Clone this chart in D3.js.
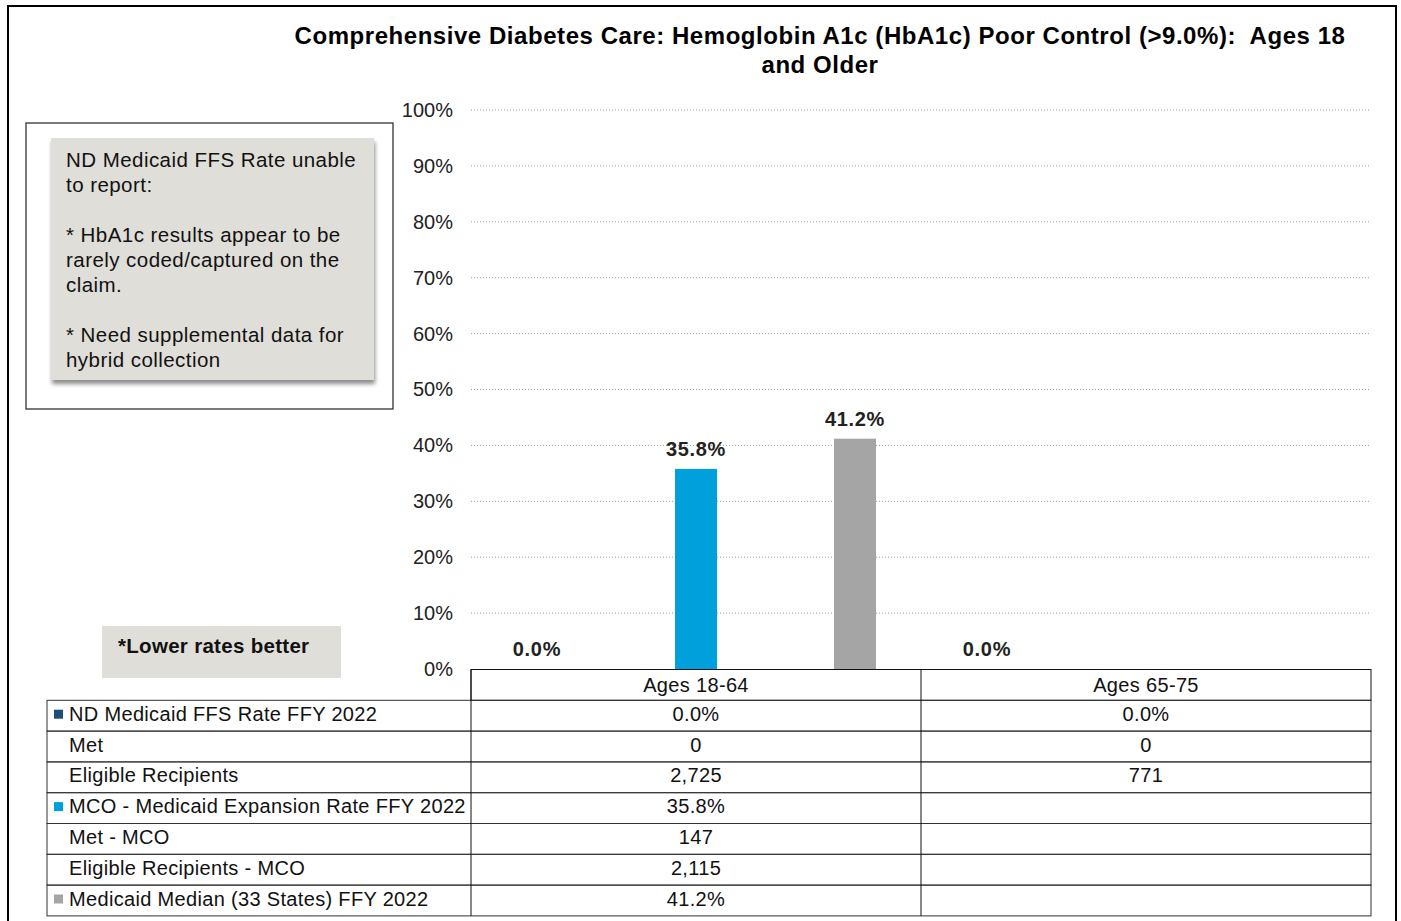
<!DOCTYPE html>
<html>
<head>
<meta charset="utf-8">
<title>HbA1c Poor Control</title>
<script src="https://d3js.org/d3.v7.min.js"></script>
<style>
  body { margin: 0; background: #fff; }
  svg { font-family: "Liberation Sans", Arial, sans-serif; }
</style>
</head>
<body>
<script>
// chart data
var categories = ["Ages 18-64", "Ages 65-75"];
var seriesKeys = ["ffs", "mco", "median"];
var seriesNames = ["ND Medicaid FFS Rate FFY 2022", "MCO - Medicaid Expansion Rate FFY 2022", "Medicaid Median (33 States) FFY 2022"];
var seriesColors = ["#1F4E79", "#00A0DC", "#A5A5A5"];
var ffsRate = [0.0, 0.0];
var ffsMet = [0, 0];
var ffsEligible = [2725, 771];
var mcoRate = [35.8, null];
var mcoMet = [147, null];
var mcoEligible = [2115, null];
var medianRate = [41.2, null];
var yTicks = [0, 10, 20, 30, 40, 50, 60, 70, 80, 90, 100];
var noteLines = ["ND Medicaid FFS Rate unable", "to report:", "", "* HbA1c results appear to be", "rarely coded/captured on the", "claim.", "", "* Need supplemental data for", "hybrid collection"];

var W = 1401, H = 921;
var svg = d3.select("body").append("svg").attr("width", W).attr("height", H);

// outer frame
svg.append("rect").attr("x", 8).attr("y", 6).attr("width", 1388).attr("height", 930)
  .attr("fill", "none").attr("stroke", "#000").attr("stroke-width", 2);

// title
var title = svg.append("text").attr("x", 820).attr("y", 44).attr("text-anchor", "middle")
  .attr("font-size", 24).attr("font-weight", "bold").attr("fill", "#000")
  .attr("letter-spacing", 0.55).style("white-space", "pre");
title.append("tspan").attr("x", 820).text("Comprehensive Diabetes Care: Hemoglobin A1c (HbA1c) Poor Control (>9.0%):  Ages 18");
title.append("tspan").attr("x", 820).attr("dy", 29).text("and Older");

// scales
var x = d3.scaleBand().domain(categories).range([471, 1371]);
var xs = d3.scaleBand().domain(seriesKeys).range([0, x.bandwidth()]).paddingInner(0.736).paddingOuter(0.283);
var y = d3.scaleLinear().domain([0, 100]).range([669, 110]);

// gridlines
svg.append("g").selectAll("line").data(yTicks.filter(function(d) { return d > 0; }))
  .enter().append("line")
  .attr("x1", 471).attr("x2", 1371)
  .attr("y1", function(d) { return y(d); }).attr("y2", function(d) { return y(d); })
  .attr("stroke", "#9a9a9a").attr("stroke-width", 1).attr("stroke-dasharray", "1,2");

// y axis labels
var yAxis = d3.axisLeft(y).tickValues(yTicks).tickSize(0).tickPadding(0)
  .tickFormat(function(d) { return d + "%"; });
var yg = svg.append("g").attr("transform", "translate(453,0)").call(yAxis);
yg.select(".domain").remove();
yg.selectAll("text").attr("font-size", 20).attr("fill", "#222")
  .attr("font-family", "'Liberation Sans', Arial, sans-serif");

// bars
var rates = { ffs: ffsRate, mco: mcoRate, median: medianRate };
var bars = [];
categories.forEach(function(c, i) {
  seriesKeys.forEach(function(k, j) {
    if (rates[k][i] !== null) bars.push({ cat: c, key: k, value: rates[k][i], color: seriesColors[j] });
  });
});
svg.append("g").selectAll("rect").data(bars).enter().append("rect")
  .attr("x", function(d) { return x(d.cat) + xs(d.key); })
  .attr("width", xs.bandwidth())
  .attr("y", function(d) { return y(d.value); })
  .attr("height", function(d) { return y(0) - y(d.value); })
  .attr("fill", function(d) { return d.color; });

svg.append("g").selectAll("text").data(bars).enter().append("text")
  .attr("x", function(d) { return x(d.cat) + xs(d.key) + xs.bandwidth() / 2; })
  .attr("y", function(d) { return y(d.value) - 13; })
  .attr("text-anchor", "middle").attr("font-size", 20).attr("font-weight", "bold").attr("fill", "#222")
  .attr("letter-spacing", 0.7)
  .text(function(d) { return d.value.toFixed(1) + "%"; });

// data table
var fmt = d3.format(",");
var pct = function(v) { return v === null ? "" : v.toFixed(1) + "%"; };
var num = function(v) { return v === null ? "" : fmt(v); };
var rows = [
  { label: seriesNames[0], color: seriesColors[0], vals: ffsRate.map(pct) },
  { label: "Met", vals: ffsMet.map(num) },
  { label: "Eligible Recipients", vals: ffsEligible.map(num) },
  { label: seriesNames[1], color: seriesColors[1], vals: mcoRate.map(pct) },
  { label: "Met - MCO", vals: mcoMet.map(num) },
  { label: "Eligible Recipients - MCO", vals: mcoEligible.map(num) },
  { label: seriesNames[2], color: seriesColors[2], vals: medianRate.map(pct) }
];
var rowH = 30.8, tableTop = 669.5, labelLeft = 47;
var tbl = svg.append("g").attr("font-size", 20).attr("letter-spacing", 0.33).attr("fill", "#111");
// header row
tbl.append("rect").attr("x", 471).attr("y", tableTop).attr("width", 900).attr("height", rowH)
  .attr("fill", "none").attr("stroke", "#111");
categories.forEach(function(c) {
  tbl.append("text").attr("x", x(c) + x.bandwidth() / 2).attr("y", tableTop + rowH / 2 + 7)
    .attr("text-anchor", "middle").text(c);
});
rows.forEach(function(r, i) {
  var ry = tableTop + rowH * (i + 1);
  tbl.append("rect").attr("x", labelLeft).attr("y", ry).attr("width", 1371 - labelLeft).attr("height", rowH)
    .attr("fill", "none").attr("stroke", "#333");
  if (r.color) {
    tbl.append("rect").attr("x", 54).attr("y", ry + rowH / 2 - 6).attr("width", 9).attr("height", 9)
      .attr("fill", r.color);
  }
  tbl.append("text").attr("x", 69).attr("y", ry + rowH / 2 + 5).text(r.label);
  r.vals.forEach(function(v, j) {
    tbl.append("text").attr("x", x(categories[j]) + x.bandwidth() / 2).attr("y", ry + rowH / 2 + 5)
      .attr("text-anchor", "middle").text(v);
  });
});
// vertical dividers
tbl.selectAll("line.div").data([471, 921]).enter().append("line")
  .attr("x1", function(d) { return d; }).attr("x2", function(d) { return d; })
  .attr("y1", tableTop).attr("y2", tableTop + rowH * 8)
  .attr("stroke", "#111");

// note box
var defs = svg.append("defs");
var f = defs.append("filter").attr("id", "shadow").attr("x", "-10%").attr("y", "-10%").attr("width", "130%").attr("height", "130%");
f.append("feDropShadow").attr("dx", 1).attr("dy", 4).attr("stdDeviation", 2).attr("flood-color", "#000").attr("flood-opacity", 0.45);

svg.append("rect").attr("x", 26).attr("y", 123).attr("width", 367).attr("height", 286)
  .attr("fill", "#fff").attr("stroke", "#222").attr("stroke-width", 1.2);
svg.append("rect").attr("x", 51).attr("y", 138).attr("width", 323).attr("height", 242)
  .attr("fill", "#E0DED9").attr("filter", "url(#shadow)");
var note = svg.append("text").attr("font-size", 20.5).attr("letter-spacing", 0.45).attr("fill", "#111");
noteLines.forEach(function(l, i) {
  note.append("tspan").attr("x", 66).attr("y", 167 + i * 25).text(l);
});

// lower rates box
svg.append("rect").attr("x", 102).attr("y", 626).attr("width", 239).attr("height", 52).attr("fill", "#E0DED9");
svg.append("text").attr("x", 118).attr("y", 653).attr("font-size", 20.5).attr("font-weight", "bold")
  .attr("letter-spacing", 0.3).attr("fill", "#111").text("*Lower rates better");
</script>
</body>
</html>
